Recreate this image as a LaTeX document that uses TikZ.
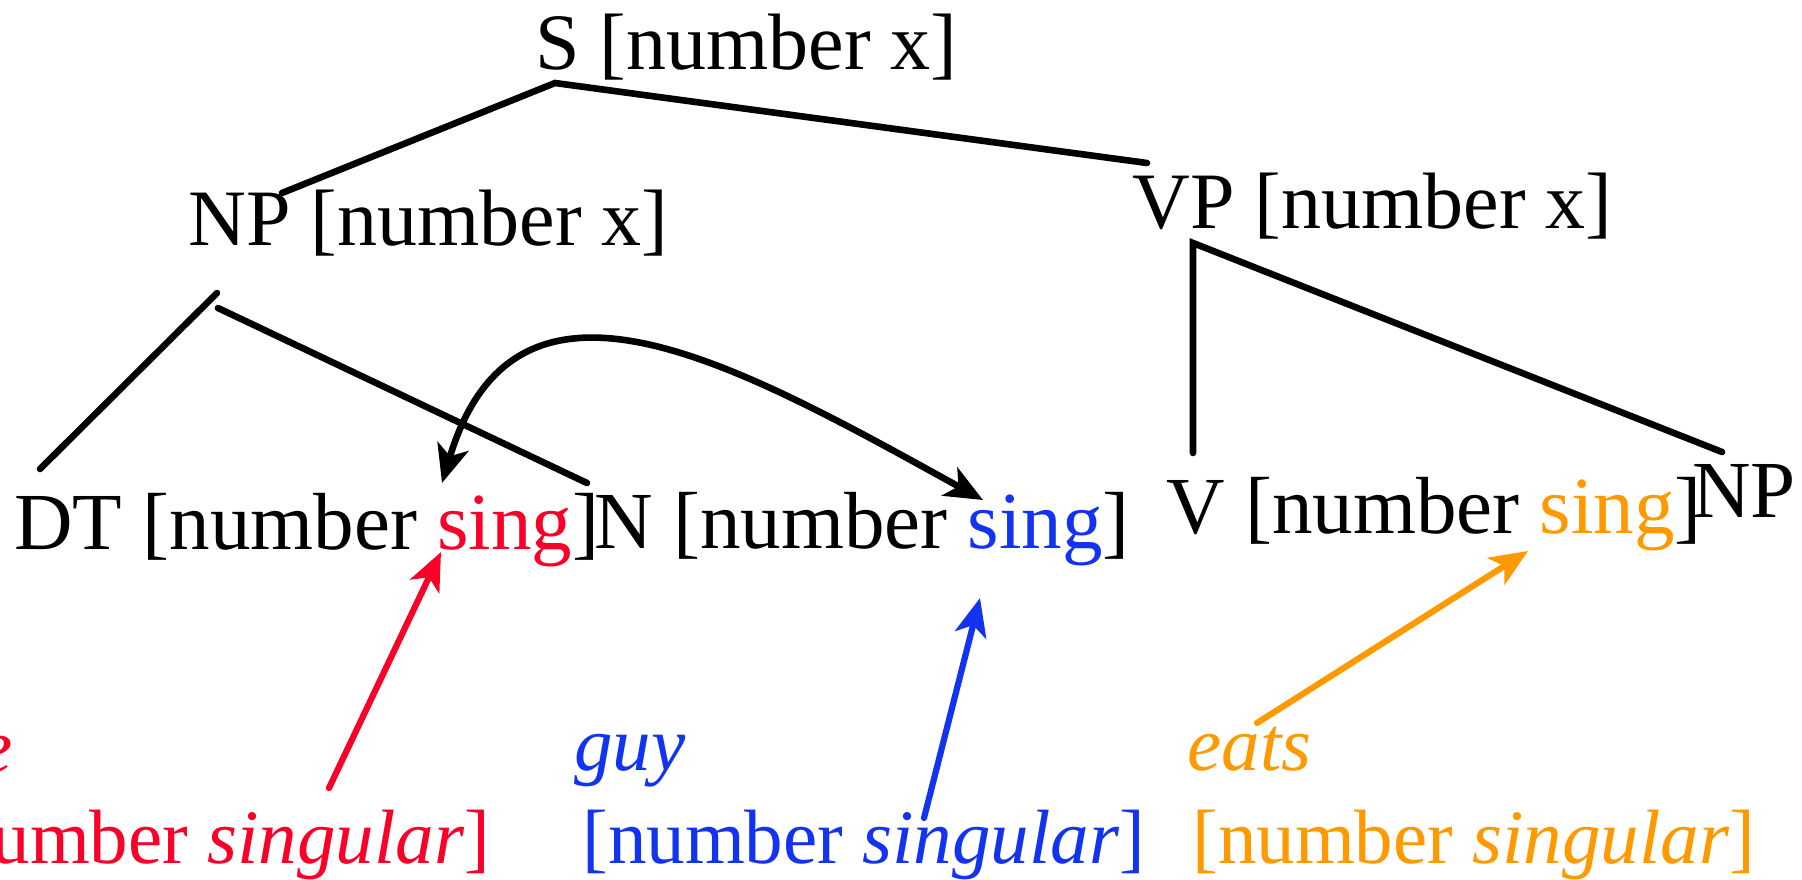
\documentclass[tikz,border=0pt]{standalone}
\usepackage{fontspec}
\setmainfont{Liberation Serif}
\usetikzlibrary{arrows.meta}
\definecolor{agrred}{RGB}{250,0,40}
\definecolor{agrblue}{RGB}{18,52,240}
\definecolor{agrorange}{RGB}{255,153,0}
\begin{document}
\begin{tikzpicture}[x=0.5pt,y=-0.5pt,
  treetext/.style={anchor=base west, inner sep=0pt, font=\fontsize{40}{48}\selectfont},
  leaftext/.style={anchor=base west, inner sep=0pt, font=\fontsize{40.5}{48}\selectfont},
  lextext/.style={anchor=base west, inner sep=0pt, font=\fontsize{38.5}{46}\selectfont},
  branch/.style={line width=3.3pt, line cap=round},
  agr/.style={line width=3.1pt, line cap=round, -{Stealth[length=19pt,width=16pt,inset=5pt]}},
]
\useasboundingbox (0,0) rectangle (1802,879);
\clip (0,0) rectangle (1802,879);

% tree nodes
\node[treetext] (S) at (535,69) {S [number x]};
\node[treetext] (NP) at (188,245) {NP [number x]};
\node[treetext] (VP) at (1132,228) {VP [number x]};
\node[leaftext] (DT) at (14,549) {DT [number \textcolor{agrred}{sing}]};
\node[leaftext] (N) at (594,548) {N [number \textcolor{agrblue}{sing}]};
\node[leaftext] (V) at (1166,533) {V [number \textcolor{agrorange}{sing}]};
\node[leaftext] (NPobj) at (1692,517) {NP};

% lexical entries (the first one runs off the left edge, as in the reference)
\node[lextext, text=agrred] (theword) at (-82,772) {\textit{the}};
\node[lextext, text=agrred] (thefeat) at (-73,863) {[number \textit{singular}]};
\node[lextext, text=agrblue] (guyword) at (574,770) {\textit{guy}};
\node[lextext, text=agrblue] (guyfeat) at (582,863) {[number \textit{singular}]};
\node[lextext, text=agrorange] (eatsword) at (1187,770) {\textit{eats}};
\node[lextext, text=agrorange] (eatsfeat) at (1192,863) {[number \textit{singular}]};

% branch end points
\coordinate (S-b) at (555,83);
\coordinate (NP-t) at (282,193);
\coordinate (VP-t) at (1147,163);
\coordinate (NP-bl) at (217,293);
\coordinate (NP-br) at (218,308);
\coordinate (DT-t) at (40,469);
\coordinate (N-t) at (587,483);
\coordinate (VP-b) at (1193,243);
\coordinate (V-t) at (1193,453);
\coordinate (NPobj-t) at (1722,452);

% tree branches
\draw[branch] (NP-t) -- (S-b) -- (VP-t);
\draw[branch] (DT-t) -- (NP-bl);
\draw[branch] (NP-br) -- (N-t);
\draw[branch] (V-t) -- (VP-b) -- (NPobj-t);

% agreement link between DT and N
\coordinate (DTsing) at (442,483);
\coordinate (Nsing) at (983,500);
\draw[branch, {Stealth[length=19pt,width=16pt,inset=5pt]}-{Stealth[length=19pt,width=16pt,inset=5pt]}]
  (DTsing) .. controls (515,240) and (730,360) .. (Nsing);

% feature arrows
\coordinate (the-src) at (329,788);
\coordinate (DT-dst) at (441,552);
\coordinate (guy-src) at (924,818);
\coordinate (N-dst) at (980,598);
\coordinate (eats-src) at (1257,723);
\coordinate (V-dst) at (1528,551);
\draw[agr, agrred] (the-src) -- (DT-dst);
\draw[agr, agrblue] (guy-src) -- (N-dst);
\draw[agr, agrorange] (eats-src) -- (V-dst);
\end{tikzpicture}
\end{document}
